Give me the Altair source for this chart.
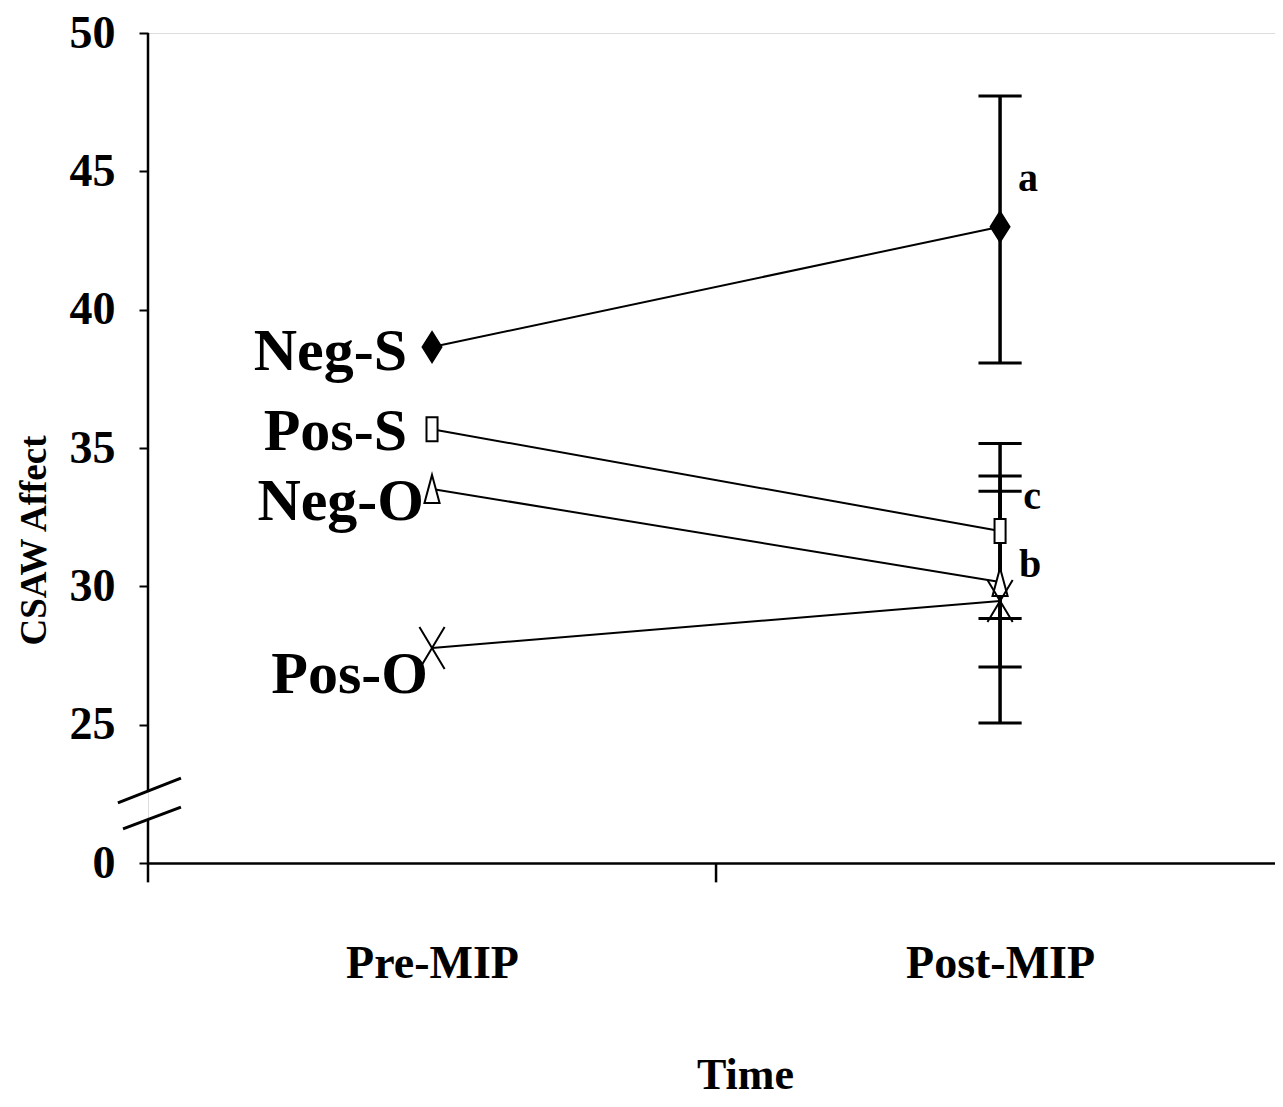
import altair as alt
import pandas as pd

# ---- data ----
groups = ["Neg-S", "Pos-S", "Neg-O", "Pos-O"]
time_labels = ["Pre-MIP", "Post-MIP"]
time_pos = [0.5, 1.5]
pre_vals = [38.65, 35.68, 33.52, 27.77]
post_vals = [43.0, 32.0, 30.16, 29.47]
err_lo = [38.07, 28.84, 27.08, 25.06]
err_hi = [47.72, 35.16, 33.44, 33.99]
sig_letters = ["a", "c", "b", ""]
y_ticks = [20, 25, 30, 35, 40, 45, 50]

SERIF = "Liberation Serif, Times New Roman, serif"

# ---- tables ----
line_df = pd.DataFrame(
    [{"group": g, "t": time_pos[0], "v": a} for g, a in zip(groups, pre_vals)]
    + [{"group": g, "t": time_pos[1], "v": b} for g, b in zip(groups, post_vals)]
)
pt_df = pd.DataFrame({"group": groups, "pre": pre_vals, "post": post_vals,
                      "lo": err_lo, "hi": err_hi, "sig": sig_letters,
                      "tpre": time_pos[0], "tpost": time_pos[1]})
cap_half = 0.038
caps_df = pd.DataFrame({"y": err_lo + err_hi})
caps_df["x"] = time_pos[1] - cap_half
caps_df["x2"] = time_pos[1] + cap_half

# y-axis line (broken) and the break slashes, in data units
axis_seg = pd.DataFrame({"x": [0.0, 0.0], "x2": [0.0, 0.0],
                         "y": [22.58, 21.55], "y2": [50.0, 19.3]})
slashes = pd.DataFrame({"x": [-0.053, -0.044], "x2": [0.058, 0.058],
                        "y": [22.17, 21.23], "y2": [23.07, 22.02]})
mid_tick = pd.DataFrame({"x": [1.0], "x2": [1.0], "y": [20.0], "y2": [19.3]})

xs = alt.Scale(domain=[0, 1.984], nice=False, zero=False)
ys = alt.Scale(domain=[20, 50], nice=False, zero=False)

x_axis = alt.Axis(values=time_pos,
                  labelExpr="datum.value < 1 ? 'Pre-MIP' : 'Post-MIP'",
                  ticks=False, domain=True, domainColor="black", domainWidth=2.5,
                  grid=False, labelFont=SERIF, labelFontSize=46, labelFontWeight="bold",
                  labelColor="black", labelPadding=78, labelFlush=False, labelOverlap=False,
                  labelLimit=0,
                  title="Time", titleFont=SERIF, titleFontSize=44, titleFontWeight="bold",
                  titleColor="black", titleX=597, titleY=225, titleAlign="center",
                  titleBaseline="alphabetic", titleLimit=0)
y_axis = alt.Axis(values=y_ticks,
                  labelExpr="datum.value == 20 ? '0' : datum.label",
                  domain=False, ticks=True, tickSize=9, tickWidth=2, tickColor="black",
                  grid=False, labelFont=SERIF, labelFontSize=46, labelFontWeight="bold",
                  labelColor="black", labelPadding=24, labelFlush=False, labelOverlap=False,
                  labelLimit=0,
                  title="CSAW Affect", titleFont=SERIF, titleFontSize=37,
                  titleFontWeight="bold", titleColor="black", titleAngle=270,
                  titleX=-114, titleY=507, titleAlign="center", titleBaseline="middle",
                  titleLimit=0)


def X(f):
    return alt.X(f, type="quantitative", scale=xs, axis=x_axis)


def Y(f):
    return alt.Y(f, type="quantitative", scale=ys, axis=y_axis)


layers = []

# axis line pieces
layers.append(alt.Chart(axis_seg).mark_rule(color="black", strokeWidth=2.5, clip=False)
              .encode(x=X("x"), x2="x2", y=Y("y"), y2="y2"))
layers.append(alt.Chart(slashes).mark_rule(color="black", strokeWidth=3, clip=False)
              .encode(x=X("x"), x2="x2", y=Y("y"), y2="y2"))
layers.append(alt.Chart(mid_tick).mark_rule(color="black", strokeWidth=2.5, clip=False)
              .encode(x=X("x"), x2="x2", y=Y("y"), y2="y2"))

# connecting lines
layers.append(alt.Chart(line_df).mark_line(color="black", strokeWidth=2)
              .encode(x=X("t"), y=Y("v"), detail="group:N"))

# error bars at Post-MIP
layers.append(alt.Chart(pt_df).mark_rule(color="black", strokeWidth=3.5)
              .encode(x=X("tpost"), y=Y("lo"), y2="hi"))
layers.append(alt.Chart(caps_df).mark_rule(color="black", strokeWidth=3)
              .encode(x=X("x"), x2="x2", y=Y("y")))

# markers
shapes = {
    "Neg-S": dict(shape="M 0 -1 L 0.63 0 L 0 1 L -0.63 0 Z", size=900, fill="black"),
    "Pos-S": dict(shape="M -0.46 -1 L 0.46 -1 L 0.46 1 L -0.46 1 Z", size=576, fill="white"),
    "Neg-O": dict(shape="M 0 -1 L 0.54 1 L -0.54 1 Z", size=784, fill="white"),
    "Pos-O": dict(shape="M -0.6 -1 L 0.6 1 M 0.6 -1 L -0.6 1", size=1764, fill=None),
}
for g in groups:
    s = shapes[g]
    kw = dict(shape=s["shape"], size=s["size"], stroke="black", strokeWidth=2, opacity=1)
    if s["fill"] is None:
        kw.update(filled=False)
    else:
        kw.update(filled=True, fill=s["fill"], fillOpacity=1)
    for col, tcol in (("pre", "tpre"), ("post", "tpost")):
        layers.append(alt.Chart(pt_df).transform_filter(alt.datum.group == g)
                      .mark_point(**kw).encode(x=X(tcol), y=Y(col)))

# group labels beside the Pre-MIP markers
label_off = {"Neg-S": (-25, 5), "Pos-S": (-25, 3), "Neg-O": (-8, 13), "Pos-O": (-4, 27)}
for g in groups:
    dx, dy = label_off[g]
    layers.append(alt.Chart(pt_df).transform_filter(alt.datum.group == g)
                  .mark_text(align="right", baseline="middle", dx=dx, dy=dy,
                             font=SERIF, fontSize=60, fontWeight="bold", color="black")
                  .encode(x=X("tpre"), y=Y("pre"), text="group:N"))

# significance letters beside the Post-MIP markers
sig_off = {"Neg-S": (28, -48), "Pos-S": (32, -34), "Neg-O": (30, -17)}
for g, (dx, dy) in sig_off.items():
    layers.append(alt.Chart(pt_df).transform_filter(alt.datum.group == g)
                  .mark_text(align="center", baseline="middle", dx=dx, dy=dy,
                             font=SERIF, fontSize=40, fontWeight="bold", color="black")
                  .encode(x=X("tpost"), y=Y("post"), text="sig:N"))

chart = (alt.layer(*layers)
         .properties(width=1127, height=830,
                     padding={"left": 140, "top": 25, "right": 0, "bottom": 235},
                     autosize=alt.AutoSizeParams(type="none"))
         .configure_view(stroke=None)
         .configure(background="white"))

chart.save("out.html", embed_options={"renderer": "svg", "actions": False})
